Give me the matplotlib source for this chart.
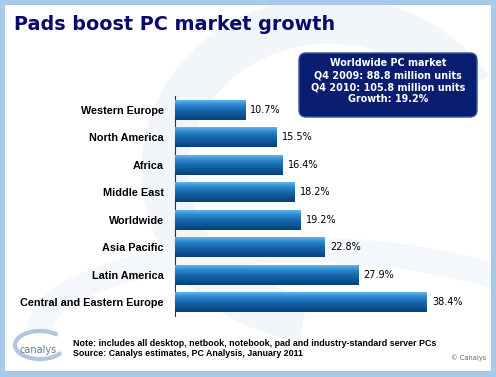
import matplotlib
matplotlib.use("Agg")
import matplotlib.pyplot as plt
import numpy as np
from matplotlib.patches import Rectangle, FancyBboxPatch, Arc, Ellipse
from matplotlib.colors import LinearSegmentedColormap

categories = ["Western Europe", "North America", "Africa", "Middle East",
              "Worldwide", "Asia Pacific", "Latin America",
              "Central and Eastern Europe"]
growth = [10.7, 15.5, 16.4, 18.2, 19.2, 22.8, 27.9, 38.4]
value_labels = ["10.7%", "15.5%", "16.4%", "18.2%", "19.2%", "22.8%", "27.9%", "38.4%"]

title = "Pads boost PC market growth"
box_lines = ["Worldwide PC market", "Q4 2009: 88.8 million units",
             "Q4 2010: 105.8 million units", "Growth: 19.2%"]
note_lines = ["Note: includes all desktop, netbook, notebook, pad and industry-standard server PCs",
              "Source: Canalys estimates, PC Analysis, January 2011"]

W, H = 496, 377
fig = plt.figure(figsize=(W / 100, H / 100), dpi=100)
fig.patch.set_facecolor("#a9c9ea")

# decoration axes in pixel coordinates
bg = fig.add_axes([0, 0, 1, 1])
bg.set_xlim(0, W)
bg.set_ylim(H, 0)
bg.axis("off")
inner = Rectangle((5, 5), W - 10, H - 11, facecolor="white", edgecolor="none", zorder=0)
bg.add_patch(inner)
# faint swirl
for arc in [Arc((330, 170), 330, 300, theta1=100, theta2=330, lw=34, color="#f2f6fb", zorder=0.5),
            Arc((300, 330), 520, 160, theta1=180, theta2=360, lw=18, color="#f4f7fc", zorder=0.5)]:
    bg.add_patch(arc)
    arc.set_clip_path(inner)

bg.text(14, 25, title, fontsize=13.8, fontweight="bold", color="#0a0a6e",
        va="center", ha="left", family="DejaVu Sans")

# info box
bg.add_patch(FancyBboxPatch((300, 54), 176, 62, boxstyle="round,pad=1,rounding_size=7",
                            facecolor="#0b1d70", edgecolor="#3655a8", lw=1, zorder=3))
for i, line in enumerate(box_lines):
    bg.text(388, 63 + i * 12, line, fontsize=6.9, fontweight="bold", color="white",
            ha="center", va="center", family="DejaVu Sans", zorder=4)

# footer
for i, line in enumerate(note_lines):
    bg.text(73, 343 + i * 11, line, fontsize=6.4, fontweight="bold", color="black",
            ha="left", va="center", family="Liberation Sans")
bg.text(486, 358, "\u00a9 Canalys", fontsize=4.8, color="#666666", ha="right", va="center")
bg.add_patch(Arc((40, 345), 50, 28, theta1=20, theta2=330, lw=3, color="#a9bfdc", alpha=0.9))
bg.text(38, 350, "canalys", fontsize=7, color="#5f7fa5", ha="center", va="center",
        family="DejaVu Sans")

# main axes
x0, x1 = 175, 490
ytop, ybot = 96, 316
xmax = (x1 - x0) / 6.56
ax = fig.add_axes([x0 / W, 1 - ybot / H, (x1 - x0) / W, (ybot - ytop) / H])
ax.patch.set_alpha(0)
ypos = np.arange(len(categories))
bars = ax.barh(ypos, growth, height=0.72, color="#1a6cb3", edgecolor="none", zorder=2)
grad = np.linspace(0, 1, 100).reshape(-1, 1)
cmap = LinearSegmentedColormap.from_list("b", ["#63b4ea", "#2c86cc", "#1769ad", "#0e5596", "#0a3f75"])
for b in bars:
    x, y = b.get_x(), b.get_y()
    w, h = b.get_width(), b.get_height()
    im = ax.imshow(grad, extent=[x, x + w, y + h, y], aspect="auto", cmap=cmap,
                   origin="upper", zorder=3)
    im.set_clip_path(b)
for yy, v, lab in zip(ypos, growth, value_labels):
    ax.text(v + 0.8, yy, lab, fontsize=7, va="center", ha="left", color="black",
            family="DejaVu Sans", zorder=4)
ax.set_xlim(0, xmax)
ax.set_ylim(len(categories) - 0.5, -0.5)
ax.set_yticks(ypos)
ax.set_yticklabels(categories, fontsize=7.8, fontweight="bold", family="Liberation Sans")
ax.tick_params(axis="y", length=0, pad=8)
ax.set_xticks([])
for s in ["top", "right", "bottom"]:
    ax.spines[s].set_visible(False)
ax.spines["left"].set_color("#333333")
ax.spines["left"].set_linewidth(0.8)

fig.savefig("out.png", dpi=100)
